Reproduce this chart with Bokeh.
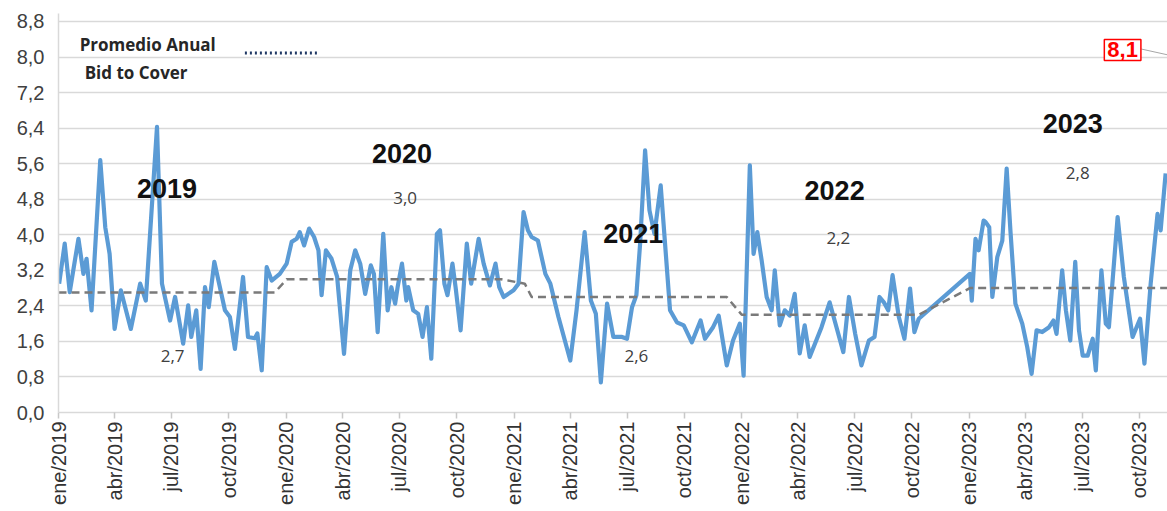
import math
import pandas as pd
from bokeh.plotting import figure
from bokeh.models import FixedTicker, Label, Arrow, ColumnDataSource, Range1d
from bokeh.embed import file_html
from bokeh.resources import INLINE

# ---------------- DATA ----------------
fechas = [
    "2019-01-02", "2019-01-11", "2019-01-19", "2019-02-02", "2019-02-10", "2019-02-15", "2019-02-23", "2019-03-09", "2019-03-17", "2019-03-24",
    "2019-04-01", "2019-04-11", "2019-04-27", "2019-05-12", "2019-05-21", "2019-06-08", "2019-06-16", "2019-06-29", "2019-07-07", "2019-07-20",
    "2019-07-28", "2019-08-02", "2019-08-10", "2019-08-17", "2019-08-24", "2019-08-30", "2019-09-08", "2019-09-25", "2019-10-03", "2019-10-11",
    "2019-10-24", "2019-11-01", "2019-11-12", "2019-11-16", "2019-11-23", "2019-12-01", "2019-12-09", "2019-12-22",
    "2020-01-02", "2020-01-10", "2020-01-18", "2020-01-23", "2020-01-30", "2020-02-07", "2020-02-15", "2020-02-22", "2020-02-27", "2020-03-05",
    "2020-03-14", "2020-03-23", "2020-04-03", "2020-04-13", "2020-04-21", "2020-04-29", "2020-05-07", "2020-05-16", "2020-05-21", "2020-05-27",
    "2020-06-05", "2020-06-12", "2020-06-18", "2020-06-24", "2020-06-28", "2020-07-05", "2020-07-12", "2020-07-15", "2020-07-23", "2020-07-31",
    "2020-08-07", "2020-08-14", "2020-08-21", "2020-08-30", "2020-09-04", "2020-09-11", "2020-09-16", "2020-09-24", "2020-09-29", "2020-10-07",
    "2020-10-17", "2020-10-24", "2020-11-05", "2020-11-13", "2020-11-23", "2020-12-02", "2020-12-08", "2020-12-15", "2020-12-31",
    "2021-01-08", "2021-01-16", "2021-01-23", "2021-01-29", "2021-02-08", "2021-02-20", "2021-02-28", "2021-03-13", "2021-04-01", "2021-04-11",
    "2021-04-24", "2021-05-04", "2021-05-12", "2021-05-20", "2021-05-30", "2021-06-09", "2021-06-23", "2021-07-01", "2021-07-09",
    "2021-07-16", "2021-07-22", "2021-07-30", "2021-08-06", "2021-08-14", "2021-08-24", "2021-08-31", "2021-09-08", "2021-09-19", "2021-09-30",
    "2021-10-13", "2021-10-27", "2021-11-03", "2021-11-16", "2021-11-25", "2021-12-08", "2021-12-18", "2021-12-29",
    "2022-01-04", "2022-01-14", "2022-01-20", "2022-01-26", "2022-02-02", "2022-02-10", "2022-02-18", "2022-02-23", "2022-03-03", "2022-03-11",
    "2022-03-19", "2022-03-27", "2022-04-04", "2022-04-12", "2022-04-20", "2022-05-09", "2022-05-22", "2022-06-02", "2022-06-13", "2022-06-22",
    "2022-07-02", "2022-07-12", "2022-07-24", "2022-08-02", "2022-08-10", "2022-08-17", "2022-08-24", "2022-08-31", "2022-09-10", "2022-09-19",
    "2022-09-28", "2022-10-05", "2022-10-12",
    "2023-01-02", "2023-01-05", "2023-01-11", "2023-01-16", "2023-01-24", "2023-01-27", "2023-02-02", "2023-02-07", "2023-02-15", "2023-02-23",
    "2023-03-02", "2023-03-08", "2023-03-16", "2023-03-27", "2023-04-04", "2023-04-11", "2023-04-19", "2023-04-28", "2023-05-09", "2023-05-16",
    "2023-05-21", "2023-05-30", "2023-06-05", "2023-06-12", "2023-06-20", "2023-06-26", "2023-07-02", "2023-07-10", "2023-07-18", "2023-07-23",
    "2023-08-01", "2023-08-08", "2023-08-13", "2023-08-27", "2023-09-06", "2023-09-20", "2023-10-02", "2023-10-09", "2023-10-19", "2023-10-30",
    "2023-11-04", "2023-11-12",
]
bid_to_cover = [
    2.90, 3.80, 2.71, 3.91, 3.12, 3.46, 2.30, 5.68, 4.17, 3.57,
    1.88, 2.75, 1.88, 2.90, 2.52, 6.43, 2.90, 2.07, 2.60, 1.55,
    2.41, 1.70, 2.30, 0.98, 2.82, 2.37, 3.39, 2.30, 2.15, 1.43,
    3.05, 1.70, 1.67, 1.78, 0.95, 3.27, 2.97, 3.12,
    3.35, 3.84, 3.91, 4.06, 3.76, 4.14, 3.95, 3.65, 2.64, 3.65,
    3.46, 3.05, 1.32, 3.20, 3.65, 3.35, 2.67, 3.31, 3.12, 1.81,
    4.02, 2.30, 2.82, 2.45, 2.82, 3.35, 2.52, 2.82, 2.30, 2.22,
    1.70, 2.37, 1.21, 4.02, 4.10, 2.90, 2.64, 3.35, 2.82, 1.85,
    3.80, 2.90, 3.91, 3.35, 2.86, 3.35, 2.82, 2.60, 2.75,
    2.90, 4.51, 4.10, 3.95, 3.87, 3.12, 2.90, 2.15, 1.17, 2.30,
    4.06, 2.52, 2.22, 0.68, 2.45, 1.70, 1.70, 1.66, 2.37,
    2.64, 3.80, 5.90, 4.55, 4.02, 5.11, 3.80, 2.30, 2.03, 1.96,
    1.58, 2.07, 1.66, 1.92, 2.18, 1.06, 1.62, 2.00,
    0.83, 5.56, 3.57, 4.06, 3.42, 2.60, 2.30, 3.20, 1.96, 2.30,
    2.18, 2.67, 1.33, 1.96, 1.25, 1.92, 2.48, 1.92, 1.36, 2.60,
    1.77, 1.06, 1.62, 1.70, 2.60, 2.48, 2.30, 3.09, 2.15, 1.66,
    2.79, 1.81, 2.11,
    3.12, 2.52, 3.91, 3.65, 4.32, 4.29, 4.17, 2.60, 3.50, 3.87,
    5.49, 4.10, 2.45, 2.00, 1.47, 0.87, 1.85, 1.81, 1.92, 2.07,
    1.77, 3.20, 2.30, 1.62, 3.39, 1.85, 1.28, 1.28, 1.66, 0.95,
    3.20, 2.00, 1.92, 4.40, 3.05, 1.70, 2.11, 1.10, 2.90, 4.47,
    4.10, 5.38,
]

prom_fechas = ["2019-01-01", "2019-12-14", "2020-01-02", "2020-12-11", "2021-01-18", "2021-01-29",
               "2021-12-08", "2022-01-01", "2022-10-12", "2023-01-02", "2023-11-15"]
prom_valores = [2.7, 2.7, 3.0, 3.0, 2.9, 2.6, 2.6, 2.2, 2.2, 2.8, 2.8]

anios = ["2019", "2020", "2021", "2022", "2023"]
promedios_anuales = ["2,7", "3,0", "2,6", "2,2", "2,8"]
ultimo_valor = "8,1"

x_tick_fechas = ["2019-01-01", "2019-04-01", "2019-07-01", "2019-10-01",
                 "2020-01-01", "2020-04-01", "2020-07-01", "2020-10-01",
                 "2021-01-01", "2021-04-01", "2021-07-01", "2021-10-01",
                 "2022-01-01", "2022-04-01", "2022-07-01", "2022-10-01",
                 "2023-01-01", "2023-04-01", "2023-07-01", "2023-10-01"]
x_tick_etiquetas = ["ene/2019", "abr/2019", "jul/2019", "oct/2019",
                    "ene/2020", "abr/2020", "jul/2020", "oct/2020",
                    "ene/2021", "abr/2021", "jul/2021", "oct/2021",
                    "ene/2022", "abr/2022", "jul/2022", "oct/2022",
                    "ene/2023", "abr/2023", "jul/2023", "oct/2023"]
y_ticks = [0.0, 0.8, 1.6, 2.4, 3.2, 4.0, 4.8, 5.6, 6.4, 7.2, 8.0, 8.8]
y_etiquetas = ["0,0", "0,8", "1,6", "2,4", "3,2", "4,0", "4,8", "5,6", "6,4", "7,2", "8,0", "8,8"]

# ---------------- LAYOUT (annotation placement) ----------------
anio_pos_fecha = ["2019-06-24", "2020-07-05", "2021-07-11", "2022-05-30", "2023-06-16"]
anio_pos_y = [5.05, 5.83, 4.03, 5.0, 6.51]
prom_pos_fecha = ["2019-07-03", "2020-07-10", "2021-07-16", "2022-06-05", "2023-06-24"]
prom_pos_y = [1.28, 4.82, 1.28, 3.92, 5.38]


def ms(d):
    return float((pd.Timestamp(d) - pd.Timestamp("1970-01-01")).total_seconds() * 1000.0)


src = ColumnDataSource(dict(x=[ms(d) for d in fechas], y=bid_to_cover))
src_prom = ColumnDataSource(dict(x=[ms(d) for d in prom_fechas], y=prom_valores))

p = figure(frame_width=1109, frame_height=399,
           x_axis_type="datetime",
           x_range=Range1d(ms("2019-01-01"), ms("2023-11-15")),
           y_range=Range1d(0, 8.98),
           output_backend="svg", toolbar_location=None,
           min_border_left=58, min_border_right=0, min_border_top=13, min_border_bottom=99)
p.outline_line_color = None
p.background_fill_color = "white"

p.xgrid.visible = False
p.ygrid.ticker = FixedTicker(ticks=y_ticks)
p.ygrid.grid_line_color = "#d9d9d9"
p.ygrid.grid_line_width = 1.5

yax = p.yaxis[0]
yax.ticker = FixedTicker(ticks=y_ticks)
yax.major_label_overrides = {t: l for t, l in zip(y_ticks, y_etiquetas)}
yax.major_tick_line_color = None
yax.major_tick_out = 0
yax.major_tick_in = 0
yax.minor_tick_line_color = None
yax.axis_line_color = "#d9d9d9"
yax.axis_line_width = 1.5
yax.major_label_text_font = "Liberation Sans"
yax.major_label_text_font_size = "20px"
yax.major_label_text_color = "#404040"
yax.major_label_standoff = 14

x_ticks_ms = [ms(d) for d in x_tick_fechas]
xax = p.xaxis[0]
xax.ticker = FixedTicker(ticks=x_ticks_ms)
xax.major_label_overrides = {t: l for t, l in zip(x_ticks_ms, x_tick_etiquetas)}
xax.major_label_orientation = math.pi / 2
xax.major_tick_out = 6
xax.major_tick_in = 0
xax.major_tick_line_color = "#c8c8c8"
xax.major_tick_line_width = 1.5
xax.minor_tick_line_color = None
xax.axis_line_color = "#d9d9d9"
xax.axis_line_width = 1.5
xax.major_label_text_font = "Liberation Sans"
xax.major_label_text_font_size = "20px"
xax.major_label_text_color = "#333333"
xax.major_label_standoff = 3

p.line("x", "y", source=src, line_color="#5b9bd5", line_width=4.2, line_join="round")
p.line("x", "y", source=src_prom, line_color="#7a7a7a", line_width=2.5, line_dash="8 5")

for t, fx, fy in zip(anios, anio_pos_fecha, anio_pos_y):
    p.add_layout(Label(x=ms(fx), y=fy, text=t, text_align="center", text_baseline="middle",
                       text_font="Liberation Sans", text_font_style="bold",
                       text_font_size="27px", text_color="#111111"))
for t, fx, fy in zip(promedios_anuales, prom_pos_fecha, prom_pos_y):
    p.add_layout(Label(x=ms(fx), y=fy, text=t, text_align="center", text_baseline="middle",
                       text_font="Open Sans", text_font_size="17px", text_color="#404040"))

# legend
p.add_layout(Label(x=ms("2019-02-04"), y=8.29, text="Promedio Anual", text_align="left",
                   text_baseline="middle", text_font="Open Sans", text_font_style="bold",
                   text_font_size="17px", text_color="#262626"))
p.add_layout(Label(x=ms("2019-02-12"), y=7.66, text="Bid to Cover", text_align="left",
                   text_baseline="middle", text_font="Open Sans", text_font_style="bold",
                   text_font_size="17px", text_color="#262626"))
p.add_layout(Arrow(end=None, x_start=ms("2019-10-27"), y_start=8.09, x_end=ms("2020-02-24"), y_end=8.09,
                   line_color="#1f3864", line_width=3, line_dash="2 3"))

# callout for last value
p.add_layout(Arrow(end=None, x_start=ms("2023-10-04"), y_start=8.18, x_end=ms("2023-11-15"), y_end=8.05,
                   line_color="#a6a6a6", line_width=1))
p.add_layout(Label(x=ms("2023-09-04"), y=8.16, text=ultimo_valor, text_align="center",
                   text_baseline="middle", text_font="Liberation Sans", text_font_style="bold",
                   text_font_size="22px", text_color="#ff0000",
                   border_line_color="#ff0000", border_line_width=1.5,
                   background_fill_color="white", padding=3))

open("out.html", "w").write(file_html(p, INLINE))
